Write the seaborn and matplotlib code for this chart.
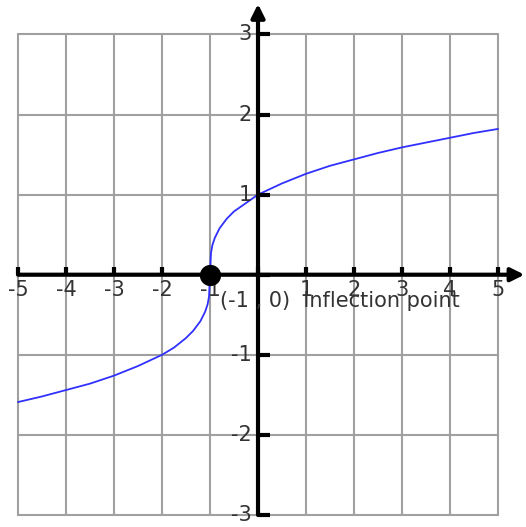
import matplotlib
matplotlib.use("Agg")
import matplotlib.pyplot as plt
import numpy as np
import seaborn as sns

# curve y = cbrt(x + 1)
curve_x = [-5, -4.5, -4, -3.5, -3, -2.5, -2, -1.75, -1.5, -1.35, -1.2, -1.1, -1.05, -1.02,
           -1, -0.98, -0.95, -0.9, -0.8, -0.65, -0.5, 0, 0.5, 1, 1.5, 2, 2.5, 3, 3.5, 4, 4.5, 5]
curve_y = [-1.59, -1.52, -1.44, -1.36, -1.26, -1.14, -1.0, -0.91, -0.79, -0.70, -0.58, -0.46, -0.37, -0.27,
           0, 0.27, 0.37, 0.46, 0.58, 0.70, 0.79, 1.0, 1.14, 1.26, 1.36, 1.44, 1.52, 1.59, 1.65, 1.71, 1.77, 1.82]

point_x = [-1]
point_y = [0]
point_label = "(-1 , 0)  Inflection point"

x_ticks = [-5, -4, -3, -2, -1, 1, 2, 3, 4, 5]
y_ticks = [-3, -2, -1, 1, 2, 3]

sns.set_style("white")
plt.rcParams['font.family'] = ['DejaVu Sans']

fig = plt.figure(figsize=(5.26, 5.27), dpi=100)
ax = fig.add_axes([0, 0, 1, 1])
ax.set_xlim(-5.375, 5.583)
ax.set_ylim(-3.15, 3.43)
ax.axis('off')

# grid
grid_c = '#a0a0a0'
for gx in range(-5, 6):
    ax.plot([gx, gx], [-3, 3], color=grid_c, lw=1.5, zorder=1)
for gy in range(-3, 4):
    ax.plot([-5, 5], [gy, gy], color=grid_c, lw=1.5, zorder=1)

# axes with arrows
arrow = dict(arrowstyle='-|>', lw=3, color='black', mutation_scale=20, shrinkA=0, shrinkB=0)
ax.annotate('', xy=(5.55, 0), xytext=(-5, 0), arrowprops=arrow, zorder=3)
ax.annotate('', xy=(0, 3.38), xytext=(0, -3), arrowprops=arrow, zorder=3)

# tick nubs
for tx in range(-5, 6):
    ax.plot([tx, tx], [0, 0.1], color='black', lw=3, solid_capstyle='butt', zorder=3)
for ty in range(-3, 4):
    ax.plot([0, 0.25], [ty, ty], color='black', lw=3, solid_capstyle='butt', zorder=3)

txt_c = '#333333'
for tx in x_ticks:
    ax.text(tx, -0.06, str(tx), ha='center', va='top', fontsize=15, color=txt_c, zorder=4)
for ty in y_ticks:
    ax.text(-0.13, ty, str(ty), ha='right', va='center', fontsize=15, color=txt_c, zorder=4)

sns.lineplot(x=curve_x, y=curve_y, ax=ax, color='#3030ff', lw=1.3, zorder=2)
sns.scatterplot(x=point_x, y=point_y, ax=ax, color='black', s=200, edgecolor='black', zorder=5)

ax.text(-0.8, -0.33, point_label, ha='left', va='center', fontsize=15, color=txt_c, zorder=4)

fig.savefig('out.png', dpi=100)
